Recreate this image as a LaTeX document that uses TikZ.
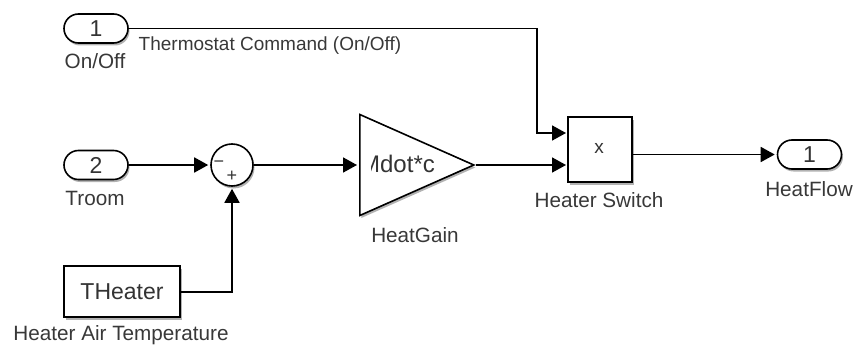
\documentclass[tikz,border=0pt]{standalone}
\usepackage{fontspec}
\setmainfont{Liberation Sans}
\usetikzlibrary{positioning}
\usetikzlibrary{arrows.meta}
\usetikzlibrary{shapes.misc, shapes.geometric}
\usetikzlibrary{shadows}

\tikzset{
  wire/.style={line width=1.8pt, draw=black, shorten >=2pt, -{Triangle[length=14pt, width=15pt]}},
  softshadow/.style={drop shadow={shadow xshift=1.5pt, shadow yshift=-2.5pt, opacity=0.3, fill=black}},
  portblock/.style={rounded rectangle, draw, line width=1.6pt, fill=white, minimum width=64pt, minimum height=29pt, inner sep=0pt, softshadow, font=\fontsize{23}{26}\selectfont, text=black!80},
  boxblock/.style={rectangle, draw, line width=1.6pt, fill=white, inner sep=0pt, softshadow, text=black!80},
  blocklabel/.style={inner sep=0pt, text=black!78, font=\fontsize{20.7}{24}\selectfont}
}

\begin{document}
\begin{tikzpicture}[x=1pt, y=-1pt]
  \useasboundingbox (0, 0) rectangle (854, 345);

  \node[portblock] (onoff) at (96, 28.5) {1};
  \node[portblock] (troom) at (96, 165) {2};
  \node[portblock] (heatflow) at (809.5, 154.5) {1};

  \node[boxblock, circle, minimum size=42pt] (sum) at (232, 165) {};
  \node[inner sep=0pt, text=black!80, font=\fontsize{18}{20}\selectfont] (minus) at (219, 164) {−};
  \node[inner sep=0pt, text=black!80, font=\fontsize{18}{20}\selectfont] (plus) at (232, 176) {+};

  \node[boxblock, isosceles triangle, isosceles triangle stretches, minimum height=114pt, minimum width=101pt, anchor=lower side] (gain) at (359, 165) {};
  \begin{scope}
    \clip (371, 140) rectangle (460, 190);
    \node[inner sep=0pt, text=black!80, font=\fontsize{24}{26}\selectfont] (gaintext) at (397.5, 164) {Mdot*c};
  \end{scope}

  \node[boxblock, minimum width=64pt, minimum height=65pt] (switch) at (600, 149.5) {};
  \node[inner sep=0pt, text=black!80, font=\fontsize{19}{20}\selectfont] (switchtext) at (599, 148) {x};

  \node[boxblock, minimum width=116pt, minimum height=51pt, font=\fontsize{23}{26}\selectfont] (theater) at (122, 291.5) {THeater};

  \node[blocklabel] (onofflabel) at (95, 61) {On/Off};
  \node[blocklabel] (troomlabel) at (95, 198) {Troom};
  \node[blocklabel] (theaterlabel) at (121, 335) {Heater Air Temperature};
  \node[blocklabel] (gainlabel) at (415, 235) {HeatGain};
  \node[blocklabel] (switchlabel) at (599, 200) {Heater Switch};
  \node[blocklabel] (flowlabel) at (809, 189) {HeatFlow};
  \node[blocklabel, font=\fontsize{19}{22}\selectfont] (cmdlabel) at (270, 46) {Thermostat Command (On/Off)};

  \coordinate (cmdcorner) at (537, 28.5);
  \coordinate (cmdend) at (537, 133);
  \coordinate (gainin) at (568, 165);
  \coordinate (cmdin) at (568, 133);
  \coordinate (heatcorner) at (232, 292);

  \draw[wire] (onoff.east) -- (cmdcorner) -- (cmdend) -- (cmdin);
  \draw[wire] (troom.east) -- (sum.west);
  \draw[wire] (sum.east) -- (gain.lower side);
  \draw[wire] (gain.apex) -- (gainin);
  \draw[wire] (theater.east |- heatcorner) -- (heatcorner) -- (sum.south);
  \draw[wire] (switch.east |- heatflow) -- (heatflow.west);
\end{tikzpicture}
\end{document}
